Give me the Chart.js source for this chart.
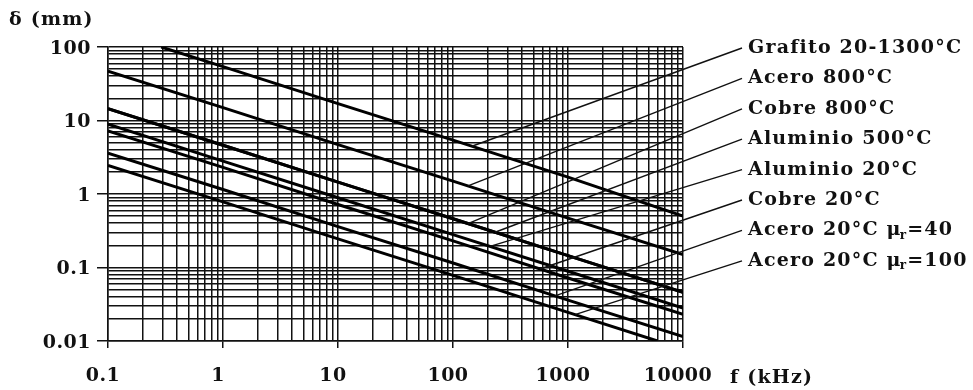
<!DOCTYPE html>
<html>
<head>
<meta charset="utf-8">
<style>
  html, body { margin: 0; padding: 0; background: #fff; }
  #wrap { width: 973px; height: 390px; }
</style>
<script src="https://cdn.jsdelivr.net/npm/chart.js@4.4.0/dist/chart.umd.min.js"></script>
</head>
<body>
<div id="wrap"><canvas id="myChart"></canvas></div>
<script>
// frequency (kHz) and penetration depth (mm)
var FREQ = [0.1, 1, 10, 100, 1000, 10000];
var FREQ_GRAFITO = [0.29, 1, 10, 100, 1000, 10000];
var FREQ_ACERO100 = [0.1, 1, 10, 100, 1000, 6000];

var grafito    = [100, 54, 17, 5.4, 1.7, 0.5];
var acero800   = [47, 15, 4.7, 1.5, 0.47, 0.15];
var cobre800   = [14.5, 4.6, 1.45, 0.46, 0.145, 0.046];
var alu500     = [14.5, 4.6, 1.45, 0.46, 0.145, 0.046];
var alu20      = [8.9, 2.8, 0.89, 0.28, 0.089, 0.028];
var cobre20    = [7.2, 2.3, 0.72, 0.23, 0.072, 0.023];
var acero40    = [3.6, 1.15, 0.36, 0.115, 0.036, 0.0115];
var acero100   = [2.45, 0.78, 0.245, 0.078, 0.0245, 0.01];

var SERIES_NAMES = ['Grafito 20-1300°C', 'Acero 800°C', 'Cobre 800°C', 'Aluminio 500°C',
    'Aluminio 20°C', 'Cobre 20°C', 'Acero 20°C μr=40', 'Acero 20°C μr=100'];
// where each label's pointer line touches its curve (kHz)
var LEADER_FREQ = [146, 135, 135, 232, 210, 571, 771, 1150];

var X_TICKS = [0.1, 1, 10, 100, 1000, 10000];
var Y_TICKS = [0.01, 0.1, 1, 10, 100];

(function () {
    var FONT = '"DejaVu Serif", serif',
        INK = '#111';

    function toPoints(freqs, values) {
        return freqs.map(function (f, i) { return { x: f, y: values[i] }; });
    }

    var seriesData = [
        toPoints(FREQ_GRAFITO, grafito),
        toPoints(FREQ, acero800),
        toPoints(FREQ, cobre800),
        toPoints(FREQ, alu500),
        toPoints(FREQ, alu20),
        toPoints(FREQ, cobre20),
        toPoints(FREQ, acero40),
        toPoints(FREQ_ACERO100, acero100)
    ];

    function logGrid(majors) {
        var ticks = [], i, k, lo = majors[0], hi = majors[majors.length - 1];
        for (i = 0; i < majors.length - 1; i++) {
            for (k = 1; k < 10; k++) {
                ticks.push({ value: majors[i] * k, major: k === 1 });
            }
        }
        ticks.push({ value: hi, major: true });
        return ticks.filter(function (t) { return t.value >= lo && t.value <= hi; });
    }

    function valueOnCurve(points, f) {
        var i, a, b, t;
        for (i = 0; i < points.length - 1; i++) {
            a = points[i]; b = points[i + 1];
            if (f >= a.x && f <= b.x) {
                t = (Math.log(f) - Math.log(a.x)) / (Math.log(b.x) - Math.log(a.x));
                return Math.exp(Math.log(a.y) + t * (Math.log(b.y) - Math.log(a.y)));
            }
        }
        return points[points.length - 1].y;
    }

    var textPlugin = {
        id: 'textPlugin',
        beforeDraw: function (chart) {
            chart.ctx.letterSpacing = '0.5px';
        },
        afterDraw: function (chart) {
            var ctx = chart.ctx,
                area = chart.chartArea,
                xs = chart.scales.x,
                ys = chart.scales.y,
                textX = area.right + 65,
                i, y, px, py;

            ctx.save();
            ctx.letterSpacing = '1.2px';
            ctx.fillStyle = INK;
            ctx.strokeStyle = INK;
            ctx.font = 'bold 19px ' + FONT;
            ctx.textBaseline = 'middle';

            ctx.textAlign = 'left';
            ctx.fillText('δ (mm)', 9, 20);
            ctx.fillText('f (kHz)', 730, 378);

            for (i = 0; i < SERIES_NAMES.length; i++) {
                y = area.top + 1 + i * 30.4;
                px = xs.getPixelForValue(LEADER_FREQ[i]);
                py = ys.getPixelForValue(valueOnCurve(seriesData[i], LEADER_FREQ[i]));

                ctx.lineWidth = 1.4;
                ctx.beginPath();
                ctx.moveTo(textX - 6, y);
                ctx.lineTo(px, py);
                ctx.stroke();

                drawLabel(ctx, SERIES_NAMES[i], textX, y);
            }
            ctx.restore();
        }
    };

    function drawLabel(ctx, text, x, y) {
        var parts = text.split('μr');
        ctx.font = 'bold 19px ' + FONT;
        if (parts.length === 1) {
            ctx.fillText(text, x, y);
            return;
        }
        ctx.fillText(parts[0] + 'μ', x, y);
        x += ctx.measureText(parts[0] + 'μ').width;
        ctx.font = 'bold 12px ' + FONT;
        ctx.fillText('r', x - 2, y + 5);
        x += ctx.measureText('r').width;
        ctx.font = 'bold 19px ' + FONT;
        ctx.fillText(parts[1], x - 2, y);
    }

    function axis(majors, extra) {
        var a = {
            type: 'logarithmic',
            min: majors[0],
            max: majors[majors.length - 1],
            afterBuildTicks: function (scale) {
                scale.ticks = logGrid(majors);
            },
            ticks: {
                autoSkip: false,
                maxRotation: 0,
                color: INK,
                font: { family: FONT, size: 19, weight: 'bold' },
                callback: function (value) {
                    return majors.indexOf(value) >= 0 ? String(value) : '';
                }
            },
            grid: {
                color: INK,
                lineWidth: 1.5,
                drawTicks: true,
                tickColor: function (c) {
                    return c.tick && c.tick.major ? INK : 'rgba(0,0,0,0)';
                }
            },
            border: { display: true, color: INK, width: 1.5 }
        };
        Object.keys(extra).forEach(function (k) {
            if (typeof extra[k] === 'object' && a[k]) {
                Object.assign(a[k], extra[k]);
            } else {
                a[k] = extra[k];
            }
        });
        return a;
    }

    new Chart(document.getElementById('myChart').getContext('2d'), {
        type: 'line',
        data: {
            datasets: seriesData.map(function (pts, i) {
                return {
                    label: SERIES_NAMES[i],
                    data: pts,
                    borderColor: '#000',
                    borderWidth: 3,
                    pointRadius: 0,
                    fill: false,
                    tension: 0
                };
            })
        },
        options: {
            responsive: true,
            maintainAspectRatio: false,
            animation: false,
            events: [],
            layout: { padding: { top: 47, right: 290, left: 0, bottom: 0 } },
            plugins: { legend: { display: false }, tooltip: { enabled: false } },
            scales: {
                x: axis(X_TICKS, {
                    position: 'bottom',
                    afterFit: function (scale) { scale.height = 49; },
                    ticks: { padding: 17, labelOffset: -5 },
                    grid: { tickLength: 7 }
                }),
                y: axis(Y_TICKS, {
                    position: 'left',
                    afterFit: function (scale) { scale.width = 108; },
                    ticks: { padding: 6, labelOffset: 2 },
                    grid: { tickLength: 11 }
                })
            }
        },
        plugins: [textPlugin]
    });
})();
</script>
</body>
</html>
